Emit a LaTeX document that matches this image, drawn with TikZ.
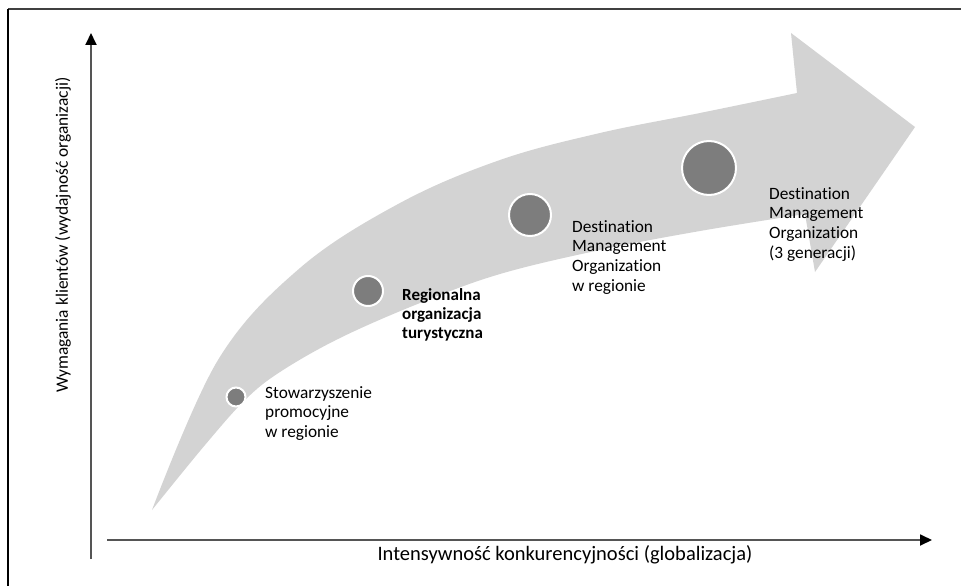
\documentclass[tikz,border=0pt]{standalone}
\usepackage{fontspec}
\setmainfont{Carlito}[Ligatures={NoCommon}]
\usetikzlibrary{arrows.meta}
\definecolor{bandgray}{RGB}{211,211,211}
\definecolor{dotgray}{RGB}{125,125,125}
\definecolor{axisgray}{RGB}{85,85,85}
\definecolor{framegray}{RGB}{64,64,64}
\tikzset{
  stage/.style={circle, draw=white, line width=2pt, fill=dotgray, inner sep=0pt},
  stagetext/.style={anchor=north west, inner sep=0pt, align=left, font=\fontsize{17.3}{19.8}\selectfont},
  axisline/.style={draw=axisgray, line width=1.8pt, -{Triangle[length=12pt,width=11pt,color=black]}},
}
\begin{document}
\begin{tikzpicture}[x=1pt,y=-1pt]
\useasboundingbox (0,0) rectangle (961,586);
\fill[white] (0,0) rectangle (961,586);
% frame (cropped)
\draw[framegray, line width=2.5pt] (8,9) -- (961,9);
\draw[black, line width=1.3pt] (8,9) -- (8,586);
% curved band arrow
\fill[bandgray]
  plot[smooth, tension=0.6] coordinates {(152,510) (218,360) (300,268) (400,203) (500,160) (600,133) (700,113) (797,93)}
  -- (791,33) -- (915,127) -- (815,272) -- (805,214)
  -- plot[smooth, tension=0.6] coordinates {(805,214) (700,231) (600,250) (500,274) (420,303) (340,338) (280,372) (245,400) (205,445) (152,510)}
  -- cycle;
% axes
\coordinate (yfrom) at (91,559);
\coordinate (yto) at (91,33);
\coordinate (xfrom) at (107,540);
\coordinate (xto) at (932,540);
\draw[axisline] (yfrom) -- (yto);
\draw[axisline] (xfrom) -- (xto);
\node[inner sep=0pt, anchor=north, font=\fontsize{20.5}{22}\selectfont] (xlab) at (565,545) {Intensywność konkurencyjności (globalizacja)};
\node[inner sep=0pt, rotate=90, font=\fontsize{17.4}{20}\selectfont] (ylab) at (63,235) {Wymagania klientów (wydajność organizacji)};
% stages
\node[stage, minimum size=19pt] (s1) at (236,397) {};
\node[stage, minimum size=30pt] (s2) at (368,291) {};
\node[stage, minimum size=42pt] (s3) at (530,215) {};
\node[stage, minimum size=54pt] (s4) at (709,168) {};
\node[stagetext] (t1) at (265,386) {Stowarzyszenie\\promocyjne\\w regionie};
\node[stagetext, font=\fontsize{17}{19}\selectfont\bfseries] (t2) at (402,288) {Regionalna\\organizacja\\turystyczna};
\node[stagetext] (t3) at (572,220) {Destination\\Management\\Organization\\w regionie};
\node[stagetext] (t4) at (769,187) {Destination\\Management\\Organization\\(3 generacji)};
\end{tikzpicture}
\end{document}
